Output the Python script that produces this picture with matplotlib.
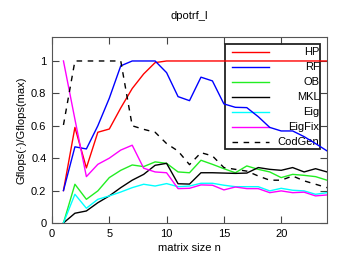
import numpy as np
import matplotlib
matplotlib.use("Agg")
import matplotlib.pyplot as plt
from matplotlib.patches import Rectangle

plt.rcParams['font.family'] = ['Liberation Sans', 'DejaVu Sans']

n = np.arange(1, 25)

hp = [0.20, 0.59, 0.34, 0.56, 0.58, 0.71, 0.83, 0.92, 0.99, 1.0, 1.0, 1.0,
      1.0, 1.0, 1.0, 1.0, 1.0, 1.0, 1.0, 1.0, 1.0, 1.0, 1.0, 1.0]
rf = [0.20, 0.47, 0.457, 0.60, 0.77, 0.97, 1.0, 1.0, 1.0, 0.928, 0.78, 0.755,
      0.90, 0.877, 0.735, 0.714, 0.712, 0.656, 0.59, 0.568, 0.568, 0.533, 0.49, 0.445]
ob = [0.0, 0.239, 0.146, 0.198, 0.28, 0.325, 0.358, 0.348, 0.377, 0.368, 0.315, 0.31,
      0.387, 0.362, 0.335, 0.31, 0.352, 0.331, 0.315, 0.28, 0.30, 0.294, 0.286, 0.264]
mkl = [0.0, 0.06, 0.074, 0.125, 0.167, 0.218, 0.264, 0.30, 0.356, 0.368, 0.242, 0.24,
       0.31, 0.31, 0.308, 0.306, 0.308, 0.342, 0.331, 0.325, 0.342, 0.315, 0.335, 0.315]
eig = [0.0, 0.177, 0.091, 0.146, 0.167, 0.191, 0.218, 0.239, 0.228, 0.243, 0.224, 0.228,
       0.245, 0.245, 0.233, 0.224, 0.224, 0.224, 0.198, 0.214, 0.202, 0.198, 0.177, 0.187]
eigfix = [1.0, 0.64, 0.286, 0.362, 0.40, 0.45, 0.48, 0.338, 0.315, 0.31, 0.212, 0.214,
          0.235, 0.233, 0.204, 0.222, 0.212, 0.212, 0.187, 0.198, 0.187, 0.19, 0.167, 0.173]
codgen = [0.605, 1.0, 1.0, 1.0, 1.0, 1.0, 0.60, 0.578, 0.56, 0.49, 0.444, 0.36,
          0.434, 0.414, 0.342, 0.331, 0.32, 0.29, 0.264, 0.264, 0.29, 0.26, 0.239, 0.218]

names = ["HP", "RF", "OB", "MKL", "Eig", "EigFix", "CodGen"]
series = [hp, rf, ob, mkl, eig, eigfix, codgen]
colors = ["#ff0000", "#0000ff", "#22ee22", "#000000", "#00ffff", "#ff00ff", "#000000"]
styles = ["-", "-", "-", "-", "-", "-", (0, (4, 4))]

fig = plt.figure(figsize=(3.49, 2.62), dpi=100)
ax = fig.add_axes([0.149, 0.149, 0.788, 0.711])

for y, c, ls in zip(series, colors, styles):
    ax.plot(n, y, color=c, linestyle=ls, linewidth=1.0, zorder=3)

ax.set_xlim(0, 24)
ax.set_ylim(0, 1.15)
ax.set_xticks([0, 5, 10, 15, 20])
ax.set_yticks([0, 0.2, 0.4, 0.6, 0.8, 1])
ax.set_yticklabels(["0", "0.2", "0.4", "0.6", "0.8", "1"])
ax.tick_params(direction="in", length=5, width=0.8, top=True, right=True,
               labelsize=8, color="#444444", pad=4)
for s in ax.spines.values():
    s.set_color("#555555")
    s.set_linewidth(0.8)

ax.set_title("dpotrf_l", fontsize=8, pad=13)
ax.set_xlabel("matrix size n", fontsize=8, labelpad=3)
ax.set_ylabel("Gflops(\u00b7)/Gflops(max)", fontsize=8, labelpad=3)

# gnuplot-like key: sample left, label right-aligned, box outline
bx0, bx1 = (225 - 52) / 275.0, (320 - 52) / 275.0
by1, by0 = (223 - 44.5) / 186.3, (223 - 149.5) / 186.3
ax.add_patch(Rectangle((bx0, by0), bx1 - bx0, by1 - by0, transform=ax.transAxes,
                       fill=False, edgecolor="#222222", linewidth=1.3, zorder=2))
for i, (name, c, ls) in enumerate(zip(names, colors, styles)):
    yy = (223 - (51.7 + 15.1 * i)) / 186.3
    ax.plot([(232 - 52) / 275.0, (269 - 52) / 275.0], [yy, yy], color=c, linestyle=ls,
            linewidth=1.0, transform=ax.transAxes, zorder=2)
    ax.text((319.5 - 52) / 275.0, yy, name, transform=ax.transAxes, ha="right",
            va="center", fontsize=8, zorder=2)

fig.savefig("out.png", dpi=100)
